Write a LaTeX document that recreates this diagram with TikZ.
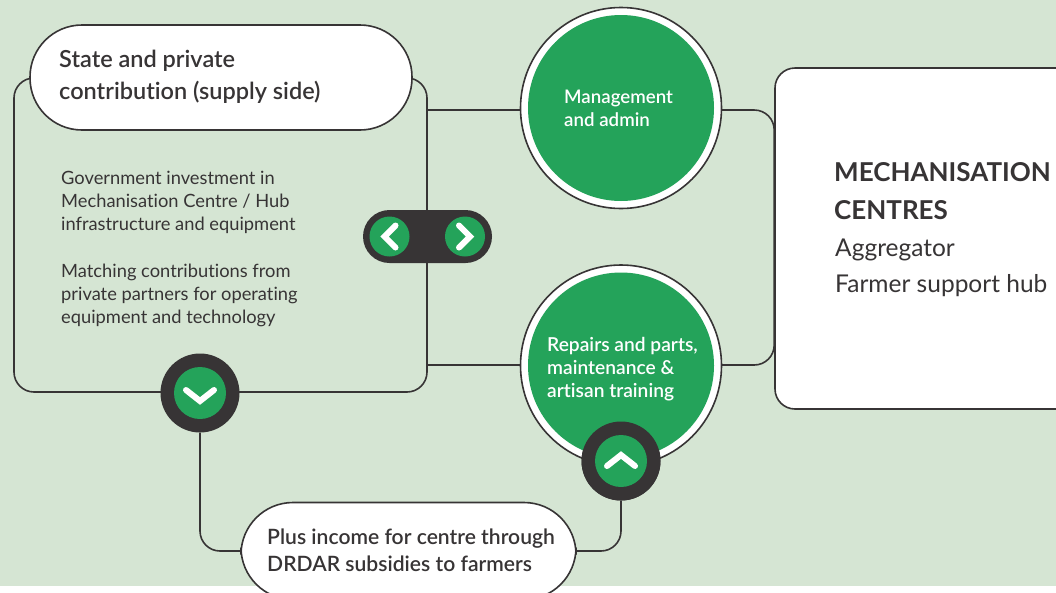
\documentclass[tikz,border=0pt]{standalone}
\usepackage{fontspec}
\setmainfont[Ligatures=CommonOff,BoldFont={Lato Semibold}]{Lato}
\newfontfamily\headfont[Ligatures=CommonOff]{Lato}
\definecolor{bgg}{HTML}{D5E5D3}
\definecolor{ink}{HTML}{373435}
\definecolor{grn}{HTML}{24A35A}
\newcommand{\fs}[2]{\fontsize{#1}{#2}\selectfont}
\tikzset{
  lin/.style={draw=ink,line width=1.6pt},
  pill/.style={lin,fill=white,inner sep=0pt,rounded corners=52pt},
  ring/.style={circle,draw=ink,line width=1.6pt,fill=white,inner sep=0pt,minimum size=201pt},
  disc/.style={circle,fill=grn,inner sep=0pt,minimum size=186pt},
  hub/.style={circle,fill=ink,inner sep=0pt,minimum size=79pt},
  dot/.style={circle,fill=grn,inner sep=0pt,minimum size=52pt},
  smalldot/.style={circle,fill=grn,inner sep=0pt,minimum size=40pt},
  chev/.style={draw=white,line width=6pt,line cap=round,line join=miter},
  txt/.style={anchor=west,inner sep=0pt,align=left,text=ink},
}
\begin{document}
\begin{tikzpicture}[x=1pt,y=-1pt]
\useasboundingbox (0,0) rectangle (1056,592);
\clip (0,0) rectangle (1056,592);
\fill[bgg] (0,0) rectangle (1056,586);
% nodes
\node[lin,inner sep=0pt,rounded corners=20pt,minimum width=413pt,minimum height=314pt] (panel) at (220.5,235) {};
\coordinate (ca) at (621,110);
\coordinate (cb) at (621,365);
\draw[lin] (ca -| panel.east) -- (ca);
\draw[lin] (cb -| panel.east) -- (cb);
\node[lin,fill=white,inner sep=0pt,rounded corners=20pt,minimum width=340pt,minimum height=341pt] (box) at (945,238.5) {};
\draw[lin,rounded corners=20pt] (ca) -| (box.west) |- (cb);
\node[ring] (ringa) at (621,108) {};
\node[ring] (ringb) at (621,365.5) {};
\node[hub] (hubd) at (200,393) {};
\node[hub] (hubu) at (621,461) {};
\node[pill,minimum width=335pt,minimum height=97pt] (pillb) at (408.5,551) {};
\draw[lin,rounded corners=20pt] (hubd.south) |- (pillb.west);
\draw[lin,rounded corners=20pt] (hubu.south) |- (pillb.east);
\node[pill,minimum width=382pt,minimum height=105pt] (pilla) at (221,77.5) {};
\node[disc] (disca) at (621,108) {};
\node[disc] (discb) at (621,365.5) {};
\node[hub] (hubtop) at (621,461) {};
\node[dot] (dotd) at (200,393) {};
\node[dot] (dotu) at (621,461) {};
\node[fill=ink,draw=none,inner sep=0pt,rounded corners=26.5pt,minimum width=129pt,minimum height=53pt] (ctrl) at (427.5,236.5) {};
\node[smalldot] (dotl) at (389.5,236.5) {};
\node[smalldot] (dotr) at (465,236.5) {};
% chevrons
\draw[chev] ([shift={(6,-11)}]dotl.center) -- ([shift={(-5,0)}]dotl.center) -- ([shift={(6,11)}]dotl.center);
\draw[chev] ([shift={(-6,-11)}]dotr.center) -- ([shift={(5,0)}]dotr.center) -- ([shift={(-6,11)}]dotr.center);
\draw[chev] ([shift={(-14,-3)}]dotd.center) -- ([shift={(0,8)}]dotd.center) -- ([shift={(14,-3)}]dotd.center);
\draw[chev] ([shift={(-14,5)}]dotu.center) -- ([shift={(0,-6)}]dotu.center) -- ([shift={(14,5)}]dotu.center);
% text
\node[txt,font=\fs{23.5}{32}\bfseries] (ta) at (59,77) {State and private\\contribution (supply side)};
\node[txt,font=\fs{18.3}{23}] (tb) at (61,202) {Government investment in\\Mechanisation Centre / Hub\\infrastructure and equipment};
\node[txt,font=\fs{18.3}{23}] (tc) at (61,295) {Matching contributions from\\private partners for operating\\equipment and technology};
\node[txt,text=white,font=\fs{18.7}{23}\bfseries] (td) at (564,108) {Management\\and admin};
\node[txt,text=white,font=\fs{19.2}{23}\bfseries] (te) at (547,369) {Repairs and parts,\\maintenance \&\\artisan training};
\node[txt,font=\fs{21.1}{27}\bfseries] (tf) at (267,550) {Plus income for centre through\\DRDAR subsidies to farmers};
\node[txt,font=\headfont\fs{26}{38}\bfseries] (tg) at (834,191.5) {MECHANISATION\\CENTRES};
\node[txt,font=\fs{24.5}{24}] (th) at (835,249.5) {Aggregator};
\node[txt,font=\fs{24.5}{24}] (ti) at (835,286) {Farmer support hub};
\end{tikzpicture}
\end{document}
